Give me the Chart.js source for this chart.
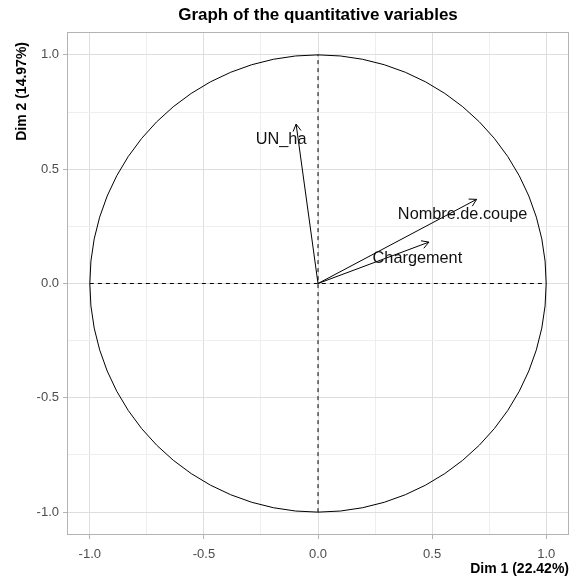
<!DOCTYPE html>
<html><head><meta charset="utf-8">
<script src="https://cdn.jsdelivr.net/npm/chart.js@4"></script>
<style>html,body{margin:0;padding:0;background:#fff;}</style>
</head><body>
<canvas id="c" width="581" height="581" style="width:581px;height:581px;display:block"></canvas>
<script>
// ---- data ----
const chartTitle = 'Graph of the quantitative variables';
const xAxisTitle = 'Dim 1 (22.42%)';
const yAxisTitle = 'Dim 2 (14.97%)';
const variables = ['UN_ha', 'Nombre.de.coupe', 'Chargement'];
const dim1 = [-0.096, 0.695, 0.486];
const dim2 = [0.697, 0.368, 0.181];
const axisMin = -1.1;
const axisMax = 1.1;
const gridValues = [-1, -0.75, -0.5, -0.25, 0, 0.25, 0.5, 0.75, 1];
const majorTickValues = [-1, -0.5, 0, 0.5, 1];
const refLineEnds = [-1, 1];
const circleRadius = 1;

// ---- style ----
const FONT = "'Liberation Sans', Arial, sans-serif";
const labelOffsetsPx = [[-15, 20], [-14, 20], [-11.5, 20.5]]; // label anchor relative to arrow tip

const isMajor = v => majorTickValues.some(m => Math.abs(m - v) < 1e-9);

function scaleOpts(axis) {
  return {
    type: 'linear',
    min: axisMin, max: axisMax,
    afterBuildTicks: s => { s.ticks = gridValues.map(v => ({ value: v })); },
    afterFit: s => { if (axis === 'x') s.height = 46; else s.width = 67; },
    ticks: {
      autoSkip: false, maxRotation: 0, minRotation: 0,
      padding: axis === 'x' ? 8 : 4,
      color: '#4D4D4D',
      font: { family: FONT, size: 13 },
      callback: v => isMajor(v) ? Number(v).toFixed(1) : ''
    },
    grid: {
      color: c => isMajor(c.tick.value) ? '#DEDEDE' : '#EEEEEE',
      lineWidth: 1,
      drawTicks: true,
      tickLength: 4,
      tickColor: c => isMajor(c.tick.value) ? '#B3B3B3' : 'rgba(0,0,0,0)',
      tickWidth: 1
    },
    border: { display: false },
    title: axis === 'x' ? {
      display: true, text: xAxisTitle, align: 'end', color: '#000',
      font: { family: FONT, size: 14, weight: 'bold' },
      padding: { top: 0, bottom: 3 }
    } : { display: false }
  };
}

const datasets = [];
// dashed reference axes
datasets.push({ data: refLineEnds.map(v => ({ x: v, y: 0 })), borderColor: '#000', borderWidth: 1, borderDash: [4, 4], pointRadius: 0, showLine: true });
datasets.push({ data: refLineEnds.map(v => ({ x: 0, y: v })), borderColor: '#000', borderWidth: 1, borderDash: [4, 4], pointRadius: 0, showLine: true });
// arrows
variables.forEach((name, i) => {
  datasets.push({ label: name, isArrow: true, data: [{ x: 0, y: 0 }, { x: dim1[i], y: dim2[i] }], borderColor: '#000', borderWidth: 1, pointRadius: 0, showLine: true });
});

const decor = {
  id: 'decor',
  beforeDatasetsDraw(chart) {
    const { ctx, chartArea: a, scales: { x, y } } = chart;
    ctx.save();
    // panel border
    ctx.strokeStyle = '#B3B3B3';
    ctx.lineWidth = 1;
    ctx.strokeRect(a.left + 0.5, a.top + 0.5, a.right - a.left - 1, a.bottom - a.top - 1);
    // correlation circle
    const cx = x.getPixelForValue(0), cy = y.getPixelForValue(0);
    const rx = x.getPixelForValue(circleRadius) - cx;
    const ry = cy - y.getPixelForValue(circleRadius);
    ctx.beginPath();
    ctx.ellipse(cx, cy, rx, ry, 0, 0, Math.PI * 2);
    ctx.strokeStyle = '#000';
    ctx.lineWidth = 1;
    ctx.stroke();
    ctx.restore();
  },
  afterDatasetsDraw(chart) {
    const { ctx } = chart;
    ctx.save();
    let k = 0;
    chart.data.datasets.forEach((ds, di) => {
      if (!ds.isArrow) return;
      const meta = chart.getDatasetMeta(di);
      const p0 = meta.data[0], p1 = meta.data[1];
      const ang = Math.atan2(p1.y - p0.y, p1.x - p0.x);
      const L = 8, h = Math.PI / 6;
      ctx.beginPath();
      ctx.moveTo(p1.x - L * Math.cos(ang - h), p1.y - L * Math.sin(ang - h));
      ctx.lineTo(p1.x, p1.y);
      ctx.lineTo(p1.x - L * Math.cos(ang + h), p1.y - L * Math.sin(ang + h));
      ctx.strokeStyle = '#000';
      ctx.lineWidth = 1;
      ctx.stroke();
      // label
      const off = labelOffsetsPx[k];
      ctx.font = '16.3px ' + FONT;
      ctx.fillStyle = '#111';
      ctx.textAlign = 'center';
      ctx.textBaseline = 'alphabetic';
      ctx.fillText(ds.label, p1.x + off[0], p1.y + off[1]);
      k++;
    });
    ctx.restore();
  },
  afterDraw(chart) {
    const { ctx } = chart;
    ctx.save();
    ctx.translate(22.5, 42);
    ctx.rotate(-Math.PI / 2);
    ctx.font = 'bold 14px ' + FONT;
    ctx.fillStyle = '#000';
    ctx.textAlign = 'right';
    ctx.textBaseline = 'middle';
    ctx.fillText(yAxisTitle, 0, 0);
    ctx.restore();
  }
};

new Chart(document.getElementById('c'), {
  type: 'scatter',
  data: { datasets },
  options: {
    responsive: false,
    animation: false,
    devicePixelRatio: 1,
    events: [],
    layout: { padding: { left: 0, right: 12, top: 0, bottom: 0 } },
    plugins: {
      legend: { display: false },
      tooltip: { enabled: false },
      title: {
        display: true, text: chartTitle, fullSize: false, color: '#000',
        font: { family: FONT, size: 17, weight: 'bold' },
        padding: { top: 5, bottom: 6.6 }
      }
    },
    scales: { x: scaleOpts('x'), y: scaleOpts('y') }
  },
  plugins: [decor]
});
</script>
</body></html>
